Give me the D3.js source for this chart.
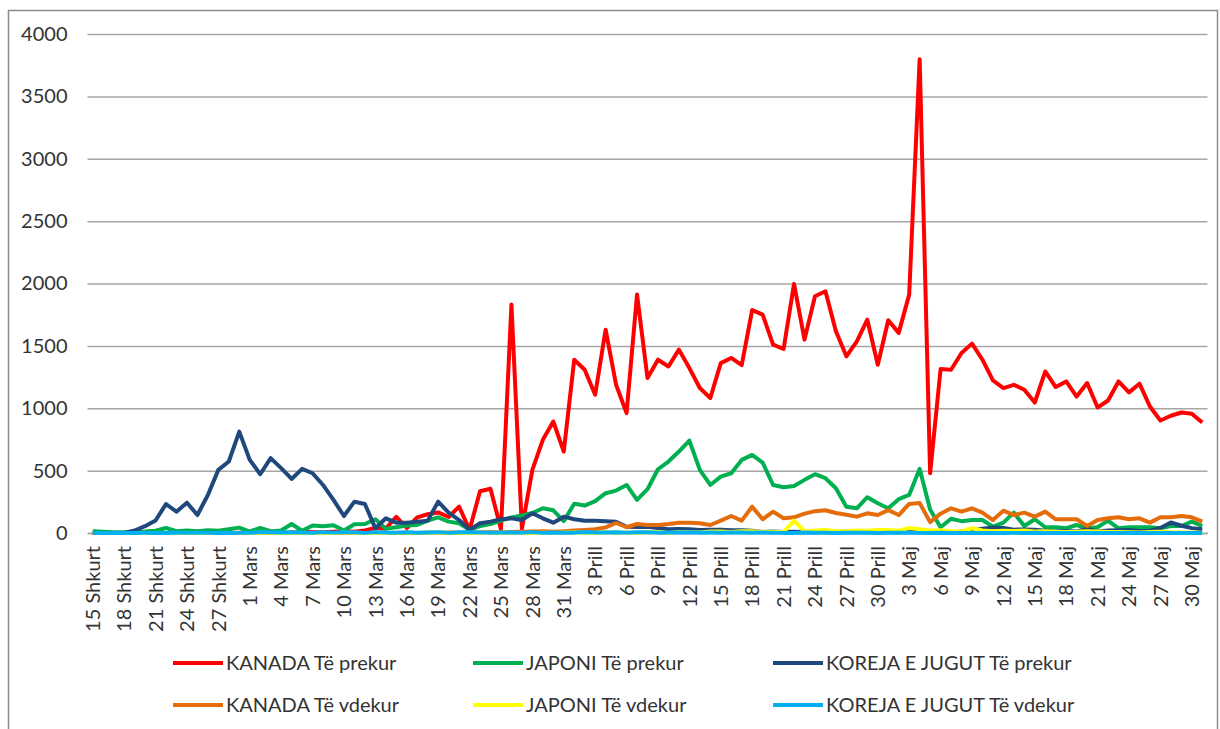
<!DOCTYPE html>
<html lang="sq">
<head>
  <meta charset="UTF-8">
  <title>Kanada, Japoni, Koreja e Jugut</title>
  <script src="https://d3js.org/d3.v7.min.js"></script>
  <style>
    body { margin: 0; background: #fff; }
    svg text { font-family: Lato, "Open Sans", sans-serif; fill: #333; }
  </style>
</head>
<body>
<script>
  // categories: one point per day, 15 Shkurt .. 31 Maj
  const months = [['Shkurt', 15, 29], ['Mars', 1, 31], ['Prill', 1, 30], ['Maj', 1, 31]];
  const dates = [];
  months.forEach(([name, from, to]) => {
    for (let d = from; d <= to; d++) dates.push(d + ' ' + name);
  });
  const tickDates = dates.filter((d, i) => i % 3 === 0);
  const yTicks = [0, 500, 1000, 1500, 2000, 2500, 3000, 3500, 4000];

  // series values
  const kanadaPrekur = [
    0, 0, 0, 0, 0, 0, 1, 0, 0, 0,
    1, 1, 0, 1, 3, 4, 2, 3, 3, 3,
    12, 6, 6, 10, 15, 11, 20, 40, 35, 130,
    40, 125, 150, 165, 128, 211, 25, 335, 355, 30,
    1831, 35, 506, 747, 894, 653, 1389, 1309, 1108, 1630,
    1188, 961, 1911, 1242, 1389, 1335, 1470, 1322, 1162, 1082,
    1362, 1403, 1345, 1787, 1751, 1510, 1475, 1997, 1550, 1898,
    1938, 1617, 1416, 1536, 1710, 1349, 1705, 1604, 1911, 3798,
    479, 1314, 1309, 1443, 1518, 1389, 1223, 1162, 1188, 1148,
    1046, 1295, 1170, 1215, 1094, 1202, 1006, 1062, 1215, 1127,
    1197, 1014, 902, 940, 966, 956, 886
  ];
  const japoniPrekur = [
    15, 10, 6, 7, 10, 12, 18, 40, 15, 20,
    15, 22, 18, 30, 43, 12, 40, 14, 20, 72,
    18, 60, 55, 62, 20, 70, 72, 110, 35, 46,
    60, 64, 99, 126, 91, 78, 25, 56, 72, 100,
    125, 140, 160, 198, 182, 95, 235, 220, 255, 319,
    340, 385, 265, 351, 511, 573, 653, 741, 506, 385,
    452, 479, 586, 626, 565, 385, 367, 377, 426, 471,
    439, 359, 211, 198, 287, 238, 198, 271, 305, 515,
    188, 46, 114, 95, 104, 104, 51, 83, 163, 56,
    110, 46, 46, 38, 64, 38, 46, 99, 38, 46,
    46, 46, 38, 56, 56, 91, 56
  ];
  const koreaPrekur = [
    0, 1, 1, 0, 20, 55, 100, 232, 171, 243,
    144, 305, 506, 573, 813, 586, 471, 600, 520, 433,
    514, 479, 385, 265, 136, 251, 233, 38, 118, 83,
    83, 91, 99, 251, 163, 104, 25, 78, 91, 110,
    118, 104, 158, 118, 83, 131, 110, 99, 99, 95,
    90, 50, 48, 50, 40, 30, 32, 30, 25, 27,
    27, 22, 22, 18, 8, 13, 9, 11, 8, 6,
    10, 10, 10, 14, 9, 4, 9, 6, 13, 8,
    3, 2, 4, 12, 20, 35, 45, 40, 27, 29,
    27, 19, 13, 15, 13, 32, 12, 20, 23, 25,
    16, 19, 40, 85, 58, 39, 30
  ];
  const kanadaVdekur = [
    0, 0, 0, 0, 0, 0, 0, 0, 0, 0,
    0, 0, 0, 0, 0, 0, 0, 0, 0, 0,
    0, 0, 0, 0, 0, 1, 0, 1, 0, 0,
    2, 0, 2, 3, 4, 2, 3, 5, 8, 5,
    9, 10, 12, 14, 10, 15, 20, 25, 30, 45,
    80, 46, 72, 64, 64, 72, 83, 83, 78, 64,
    99, 136, 99, 211, 110, 171, 118, 126, 155, 175,
    182, 160, 147, 131, 158, 144, 183, 144, 233, 240,
    87, 155, 198, 171, 198, 163, 104, 179, 144, 163,
    131, 171, 110, 110, 110, 56, 104, 118, 126, 110,
    118, 83, 126, 126, 136, 126, 91
  ];
  const japoniVdekur = [
    0, 0, 0, 0, 1, 1, 0, 0, 0, 1,
    0, 0, 1, 0, 1, 1, 0, 1, 1, 2,
    0, 0, 0, 0, 3, 1, 1, 0, 0, 3,
    0, 1, 2, 3, 3, 1, 0, 0, 3, 2,
    1, 1, 0, 2, 1, 5, 5, 3, 2, 6,
    2, 5, 3, 6, 8, 1, 8, 9, 5, 13,
    12, 9, 14, 15, 8, 10, 7, 100, 12, 20,
    24, 15, 14, 20, 18, 25, 25, 18, 40, 30,
    20, 22, 15, 12, 38, 20, 15, 18, 16, 20,
    12, 15, 10, 8, 10, 14, 12, 9, 8, 6,
    5, 8, 10, 6, 5, 4, 3
  ];
  const koreaVdekur = [
    0, 0, 0, 0, 0, 1, 1, 0, 4, 1,
    2, 1, 1, 0, 1, 3, 6, 6, 4, 7,
    5, 2, 7, 3, 6, 6, 1, 7, 5, 3,
    6, 3, 5, 7, 1, 6, 6, 5, 2, 5,
    5, 3, 7, 1, 4, 3, 3, 8, 5, 5,
    6, 3, 6, 6, 3, 4, 4, 6, 3, 5,
    2, 5, 5, 2, 4, 3, 1, 1, 4, 2,
    2, 0, 2, 2, 2, 1, 2, 2, 2, 1,
    0, 2, 0, 0, 0, 1, 0, 0, 1, 1,
    2, 0, 1, 0, 0, 0, 0, 1, 0, 0,
    0, 0, 0, 0, 0, 0, 0
  ];

  const series = [
    { name: 'KANADA Të prekur', values: kanadaPrekur, color: '#ff0000' },
    { name: 'JAPONI Të prekur', values: japoniPrekur, color: '#00b050' },
    { name: 'KOREJA E JUGUT Të prekur', values: koreaPrekur, color: '#1f497d' },
    { name: 'KANADA Të vdekur', values: kanadaVdekur, color: '#e46c0a' },
    { name: 'JAPONI Të vdekur', values: japoniVdekur, color: '#ffff00' },
    { name: 'KOREJA E JUGUT Të vdekur', values: koreaVdekur, color: '#00b0f0' }
  ];

  const svgWidth = 1220, svgHeight = 729;
  const plot = { left: 87.5, right: 1207.5, top: 34, bottom: 533 };

  const svg = d3.select('body').append('svg')
    .attr('width', svgWidth)
    .attr('height', svgHeight);

  // outer chart border
  svg.append('rect')
    .attr('x', 8.5).attr('y', 10.5)
    .attr('width', 1209).attr('height', 740)
    .attr('fill', 'none')
    .attr('stroke', '#8c8c8c')
    .attr('stroke-width', 1.5);

  const x = d3.scaleBand().domain(dates).range([plot.left, plot.right]);
  const y = d3.scaleLinear().domain([0, 4000]).range([plot.bottom, plot.top]);

  // y axis with gridlines
  const yAxis = svg.append('g')
    .attr('transform', 'translate(' + plot.left + ',0)')
    .call(d3.axisLeft(y).tickValues(yTicks).tickFormat(d3.format('d'))
      .tickSize(-(plot.right - plot.left)).tickPadding(20));
  yAxis.select('.domain').remove();
  yAxis.selectAll('line').attr('stroke', '#a6a6a6').attr('stroke-width', 1.5);
  yAxis.selectAll('text').style('font-size', '20px');

  // x axis, rotated labels
  const xAxis = svg.append('g')
    .attr('transform', 'translate(0,' + plot.bottom + ')')
    .call(d3.axisBottom(x).tickValues(tickDates).tickSize(0));
  xAxis.select('.domain').attr('stroke', '#a6a6a6').attr('stroke-width', 1.5);
  xAxis.selectAll('text')
    .style('font-size', '20px')
    .attr('text-anchor', 'end')
    .attr('transform', 'rotate(-90)')
    .attr('x', -13)
    .attr('y', 0)
    .attr('dy', '0.36em');

  // lines
  const line = d3.line()
    .x((d, i) => x(dates[i]) + x.bandwidth() / 2)
    .y(d => y(d));

  svg.selectAll('.series')
    .data(series)
    .enter().append('path')
    .attr('class', 'series')
    .attr('d', d => line(d.values))
    .attr('fill', 'none')
    .attr('stroke', d => d.color)
    .attr('stroke-width', 4)
    .attr('stroke-linejoin', 'round');

  // legend, 3 columns x 2 rows
  const legend = svg.selectAll('.legend')
    .data(series)
    .enter().append('g')
    .attr('class', 'legend')
    .attr('transform', (d, i) => 'translate(' + (173 + (i % 3) * 300) + ',' + (663 + Math.floor(i / 3) * 42) + ')');

  legend.append('line')
    .attr('x1', 0).attr('x2', 50)
    .attr('stroke', d => d.color)
    .attr('stroke-width', 4);

  legend.append('text')
    .attr('x', 53)
    .attr('dy', '0.35em')
    .style('font-size', '20px')
    .text(d => d.name);
</script>
</body>
</html>
